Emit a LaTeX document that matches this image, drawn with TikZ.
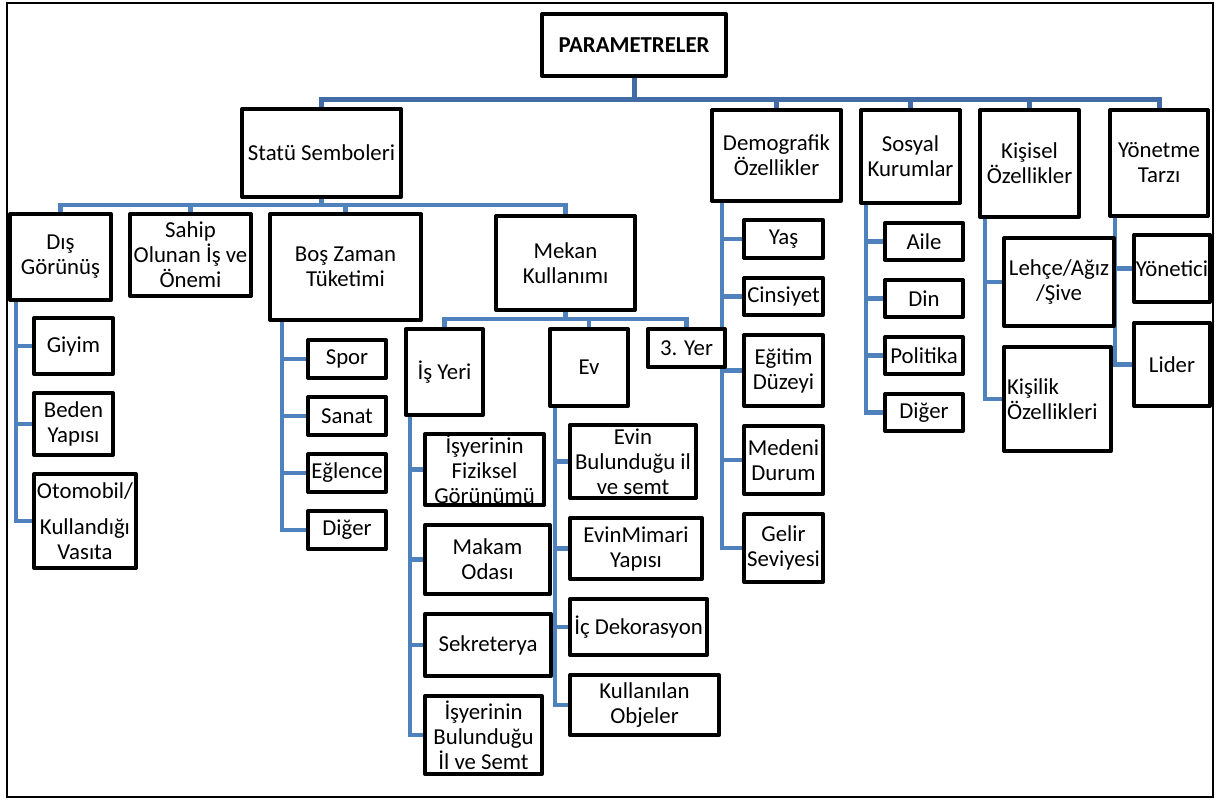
\documentclass[tikz,border=0pt]{standalone}
\usepackage{fontspec}
\setmainfont{Carlito}
\usetikzlibrary{backgrounds}
\definecolor{hatmavi}{RGB}{79,129,189}
\definecolor{koyumavi}{RGB}{66,108,165}
\newcommand{\kutuyazi}{\fontsize{22.8}{25}\selectfont}
\tikzset{kutu/.style={draw=black,line width=4pt,fill=white,inner sep=0pt,align=center,font=\kutuyazi},
  kucuk/.style={kutu,minimum width=78pt,minimum height=38pt},
  bag/.style={draw=hatmavi,line width=4.5pt},
  anabag/.style={draw=koyumavi,line width=5pt}}
\begin{document}
\begin{tikzpicture}[x=1pt,y=-1pt,line join=round]
\useasboundingbox (0,0) rectangle (1217,800);
%Kök
\node[kutu,minimum width=184pt,minimum height=62pt,font=\kutuyazi\bfseries] (param) at (634,45) {PARAMETRELER};
%Birinci düzey
\node[kutu,minimum width=159pt,minimum height=88pt] (statu) at (321.5,153) {Statü Semboleri};
\node[kutu,minimum width=129pt,minimum height=91pt] (demog) at (776.5,155.5) {Demografik\\Özellikler};
\node[kutu,minimum width=99pt,minimum height=93pt] (sosyal) at (910.5,156.5) {Sosyal\\Kurumlar};
\node[kutu,minimum width=99pt,minimum height=107pt] (kisisel) at (1029.5,163.5) {Kişisel\\Özellikler};
\node[kutu,minimum width=98pt,minimum height=106pt] (yonetme) at (1159,163) {Yönetme\\Tarzı};
%Statü sembolleri
\node[kutu,minimum width=101pt,minimum height=86pt] (dis) at (60.5,257) {Dış\\Görünüş};
\node[kutu,minimum width=121pt,minimum height=82pt] (sahip) at (190.5,255) {Sahip\\Olunan İş ve\\Önemi};
\node[kutu,minimum width=151pt,minimum height=106pt] (bos) at (345.5,267) {Boş Zaman\\Tüketimi};
\node[kutu,minimum width=139pt,minimum height=94pt] (mekan) at (565.5,263) {Mekan\\Kullanımı};
\node[kutu,minimum width=79pt,minimum height=56pt] (giyim) at (73.5,346) {Giyim};
\node[kutu,minimum width=79pt,minimum height=62pt] (beden) at (73.5,424) {Beden\\Yapısı};
\node[kutu,minimum width=102pt,minimum height=94pt] (otomobil) at (85,521) {Otomobil/\\[11pt]Kullandığı\\Vasıta};
\node[kucuk] (spor) at (347,359) {Spor};
\node[kucuk] (sanat) at (347,416) {Sanat};
\node[kucuk] (eglence) at (347,473) {Eğlence};
\node[kucuk] (diger) at (347,530) {Diğer};
%Mekan kullanımı
\node[kutu,minimum width=77pt,minimum height=86pt] (isyeri) at (444.5,372) {İş Yeri};
\node[kutu,minimum width=78pt,minimum height=77pt] (ev) at (589,367.5) {Ev};
\node[kutu,minimum width=77pt,minimum height=38pt] (ucyer) at (686.5,348) {3. Yer};
\node[kutu,minimum width=119pt,minimum height=71pt] (fiziksel) at (484.5,469.5) {İşyerinin\\Fiziksel\\Görünümü};
\node[kutu,minimum width=125pt,minimum height=69pt] (makam) at (487.5,559.5) {Makam\\Odası};
\node[kutu,minimum width=126pt,minimum height=62pt] (sekreter) at (488,645) {Sekreterya};
\node[kutu,minimum width=117pt,minimum height=78pt] (isyeriil) at (483.5,735) {İşyerinin\\Bulunduğu\\İl ve Semt};
\node[kutu,minimum width=126pt,minimum height=73pt] (evil) at (633,461.5) {Evin\\Bulunduğu il\\ve semt};
\node[kutu,minimum width=132pt,minimum height=61pt] (mimari) at (636,548.5) {EvinMimari\\Yapısı};
\node[kutu,minimum width=137pt,minimum height=56pt] (dekor) at (638.5,627) {İç Dekorasyon};
\node[kutu,minimum width=149pt,minimum height=60pt] (obje) at (644.5,705) {Kullanılan\\Objeler};
%Demografik
\node[kutu,minimum width=79pt,minimum height=38pt] (yas) at (783.5,239) {Yaş};
\node[kutu,minimum width=79pt,minimum height=37pt] (cinsiyet) at (783.5,296.5) {Cinsiyet};
\node[kutu,minimum width=79pt,minimum height=71pt] (egitim) at (783.5,370.5) {Eğitim\\Düzeyi};
\node[kutu,minimum width=79pt,minimum height=68pt] (medeni) at (783.5,460) {Medeni\\Durum};
\node[kutu,minimum width=79pt,minimum height=68pt] (gelir) at (783.5,548) {Gelir\\Seviyesi};
%Sosyal kurumlar
\node[kucuk,minimum height=37pt] (aile) at (924,241.5) {Aile};
\node[kucuk,minimum height=37pt] (din) at (924,298.5) {Din};
\node[kucuk,minimum height=37pt] (politika) at (924,355.5) {Politika};
\node[kucuk,minimum height=37pt] (sdiger) at (924,412.5) {Diğer};
%Kişisel, yönetme
\node[kutu,minimum width=110pt,minimum height=88pt] (lehce) at (1059,282) {Lehçe/Ağız\\/Şive};
\node[kutu,minimum width=107pt,minimum height=104pt,text width=101pt,align=left] (kisilik) at (1057.5,399) {Kişilik\\Özellikleri};
\node[kutu,minimum width=76pt,minimum height=67pt] (yonetici) at (1172,268.5) {Yönetici};
\node[kutu,minimum width=76pt,minimum height=83pt] (lider) at (1172,364.5) {Lider};
%Bağlantılar
\begin{scope}[on background layer]
  \draw[line width=1.5pt] (7,3) rectangle (1213,797);
  \coordinate (ustbar) at (0,99);
  \coordinate (statubar) at (0,205);
  \coordinate (mekanbar) at (0,319);
  \draw[anabag] (param.south) -- (param.south |- ustbar);
  \draw[anabag] (statu.north) |- (ustbar -| yonetme.north) -- (yonetme.north);
  \foreach \c in {demog,sosyal,kisisel} \draw[anabag] (\c.north) -- (\c.north |- ustbar);
  \draw[bag] (statu.south) -- (statu.south |- statubar);
  \draw[bag] (dis.north) |- (statubar -| mekan.north) -- (mekan.north);
  \foreach \c in {sahip,bos} \draw[bag] (\c.north) -- (\c.north |- statubar);
  \draw[bag] (mekan.south) -- (mekan.south |- mekanbar);
  \draw[bag] (isyeri.north) |- (mekanbar -| ucyer.north) -- (ucyer.north);
  \draw[bag] (ev.north) -- (ev.north |- mekanbar);
  \foreach \c in {giyim,beden,otomobil} \draw[bag] ([xshift=8pt]dis.south west) |- (\c.west);
  \foreach \c in {spor,sanat,eglence,diger} \draw[bag] ([xshift=14pt]bos.south west) |- (\c.west);
  \foreach \c in {fiziksel,makam,sekreter,isyeriil} \draw[bag] ([xshift=6pt]isyeri.south west) |- (\c.west);
  \foreach \c in {evil,mimari,dekor,obje} \draw[bag] ([xshift=7pt]ev.south west) |- (\c.west);
  \foreach \c in {yas,cinsiyet,egitim,medeni,gelir} \draw[bag] ([xshift=12pt]demog.south west) |- (\c.west);
  \foreach \c in {aile,din,politika,sdiger} \draw[bag] ([xshift=7pt]sosyal.south west) |- (\c.west);
  \foreach \c in {lehce,kisilik} \draw[bag] ([xshift=7pt]kisisel.south west) |- (\c.west);
  \foreach \c in {yonetici,lider} \draw[bag] ([xshift=7pt]yonetme.south west) |- (\c.west);
\end{scope}
\end{tikzpicture}
\end{document}
